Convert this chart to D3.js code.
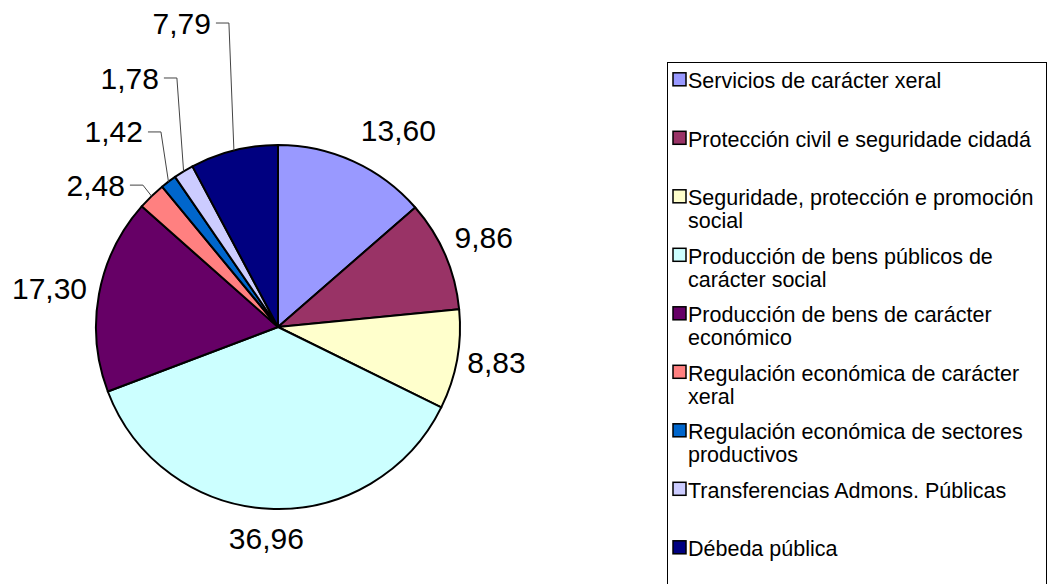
<!DOCTYPE html>
<html>
<head>
<meta charset="utf-8">
<script src="https://cdn.jsdelivr.net/npm/d3@7/dist/d3.min.js"></script>
<style>
  html, body { margin: 0; padding: 0; background: #fff; }
  svg { display: block; }
  text { font-family: "Liberation Sans", Arial, sans-serif; fill: #000; }
</style>
</head>
<body>
<svg id="chart" width="1050" height="584"></svg>
<script>
// ---- data ----
const categories = [
  "Servicios de carácter xeral",
  "Protección civil e seguridade cidadá",
  "Seguridade, protección e promoción social",
  "Producción de bens públicos de carácter social",
  "Producción de bens de carácter económico",
  "Regulación económica de carácter xeral",
  "Regulación económica de sectores productivos",
  "Transferencias Admons. Públicas",
  "Débeda pública"
];
const values = [13.60, 9.86, 8.83, 36.96, 17.30, 2.48, 1.42, 1.78, 7.79];
const valueLabels = ["13,60", "9,86", "8,83", "36,96", "17,30", "2,48", "1,42", "1,78", "7,79"];

// ---- style / layout ----
const colors = ["#9999FF", "#993366", "#FFFFCC", "#CCFFFF", "#660066", "#FF8080", "#0066CC", "#CCCCFF", "#000080"];
const cx = 278, cy = 327, R = 182;
// label placement: offset of label centre from slice's outer mid point (null => uses leader line)
const labelOffsets = [[45, -31], [38.5, -18], [39.5, 2.5], [-3, 30], [-49.5, -6], null, null, null, null];
// leader elbow offsets from slice's outer mid point
const elbowOffsets = [null, null, null, null, null, [-8.6, -11], [-7.5, -49.7], [-6.7, -93.4], [-5, -127.4]];

const svg = d3.select("#chart");
svg.append("rect").attr("width", 1050).attr("height", 584).attr("fill", "#fff");

const pie = d3.pie().sort(null).value(d => d)(values);
const arc = d3.arc().innerRadius(0).outerRadius(R);
const g = svg.append("g").attr("transform", `translate(${cx},${cy})`);

g.selectAll("path.slice").data(pie).join("path")
  .attr("class", "slice")
  .attr("d", arc)
  .attr("fill", (d, i) => colors[i])
  .attr("stroke", "#000")
  .attr("stroke-width", 2)
  .attr("stroke-linejoin", "round");

function outerMid(d) {
  const a = (d.startAngle + d.endAngle) / 2;
  return [R * Math.sin(a), -R * Math.cos(a)];
}

const labelFont = 30;
pie.forEach((d, i) => {
  const [px, py] = outerMid(d);
  if (labelOffsets[i]) {
    const [ox, oy] = labelOffsets[i];
    g.append("text")
      .attr("x", px + ox).attr("y", py + oy)
      .attr("dy", "0.35em")
      .attr("text-anchor", "middle")
      .style("font-size", labelFont + "px")
      .text(valueLabels[i]);
  } else {
    const [ex, ey] = elbowOffsets[i];
    const elx = px + ex, ely = py + ey;
    g.append("path")
      .attr("d", d3.line()([[elx - 13, ely], [elx, ely], [px, py]]))
      .attr("fill", "none")
      .attr("stroke", "#444")
      .attr("stroke-width", 1);
    g.append("text")
      .attr("x", elx - 18).attr("y", ely)
      .attr("dy", "0.35em")
      .attr("text-anchor", "end")
      .style("font-size", labelFont + "px")
      .text(valueLabels[i]);
  }
});

// ---- legend ----
const lg = svg.append("g");
lg.append("rect")
  .attr("x", 667.5).attr("y", 62.5)
  .attr("width", 379).attr("height", 600)
  .attr("fill", "#fff").attr("stroke", "#000").attr("stroke-width", 1);

const legendFont = 21.5, textX = 688, firstBase = 88.3, itemStep = 58.5, lineStep = 23, maxW = 355;
categories.forEach((name, i) => {
  const base = firstBase + i * itemStep;
  lg.append("rect")
    .attr("x", 673).attr("y", base - 15.5)
    .attr("width", 13).attr("height", 13)
    .attr("fill", colors[i]).attr("stroke", "#000").attr("stroke-width", 1.5);
  const t = lg.append("text").attr("x", textX).attr("y", base).style("font-size", legendFont + "px");
  // wrap words by measured width
  const words = name.split(" ");
  let line = [], lineNo = 0;
  let ts = t.append("tspan").attr("x", textX).attr("y", base);
  words.forEach(w => {
    line.push(w);
    ts.text(line.join(" "));
    if (ts.node().getComputedTextLength() > maxW && line.length > 1) {
      line.pop();
      ts.text(line.join(" "));
      line = [w];
      lineNo++;
      ts = t.append("tspan").attr("x", textX).attr("y", base + lineNo * lineStep).text(w);
    }
  });
});
</script>
</body>
</html>
